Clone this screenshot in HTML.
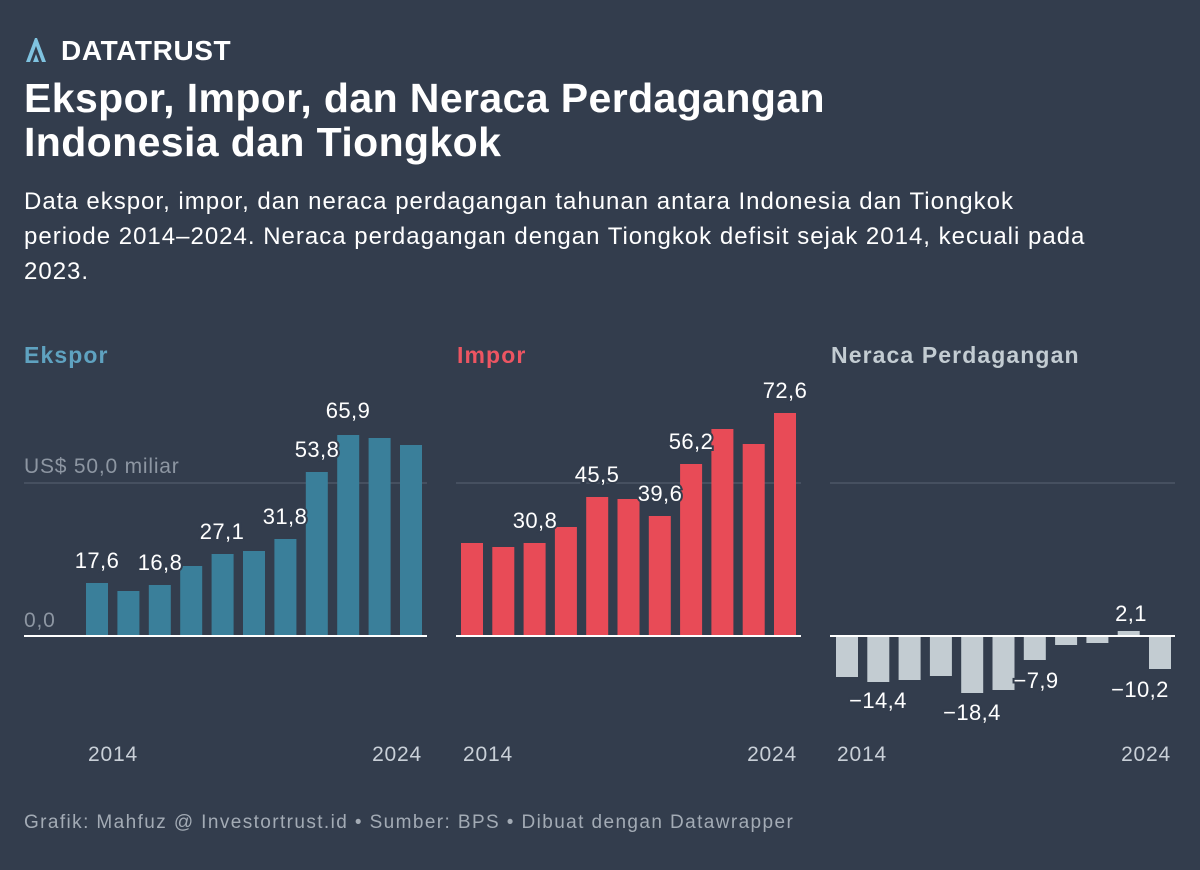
<!DOCTYPE html>
<html><head><meta charset="utf-8"><style>
body{margin:0;width:1200px;height:870px;background:#333d4d;overflow:hidden;font-family:"Liberation Sans",Arial,sans-serif;}
.t{position:absolute;white-space:nowrap;}
</style></head><body>
<div class="t" style="left:24px;top:36px;">
<svg width="24" height="28" viewBox="0 0 24 28" style="vertical-align:middle"><path d="M2 26 L11 2 L13 2 L22 26 L18 26 L12 10 L6 26 Z" fill="#7fc3e0"/><path d="M9 26 L12 18 L15 26 Z" fill="#7fc3e0"/></svg>
</div>
<div class="t" style="left:61px;top:35px;font-size:28px;font-weight:bold;color:#fff;letter-spacing:0.6px;">DATATRUST</div>
<div class="t" style="left:24px;top:76px;font-size:41px;font-weight:bold;color:#fff;line-height:44px;letter-spacing:0.4px;">Ekspor, Impor, dan Neraca Perdagangan<br>Indonesia dan Tiongkok</div>
<div class="t" style="left:24px;top:184px;font-size:24px;color:#fff;line-height:35px;letter-spacing:1.0px;">Data ekspor, impor, dan neraca perdagangan tahunan antara Indonesia dan Tiongkok<br>periode 2014–2024. Neraca perdagangan dengan Tiongkok defisit sejak 2014, kecuali pada<br>2023.</div>
<div class="t" style="left:24px;top:342px;font-size:23px;font-weight:bold;color:#5fa2c0;letter-spacing:1.1px;">Ekspor</div>
<div class="t" style="left:457px;top:342px;font-size:23px;font-weight:bold;color:#ed5562;letter-spacing:1.1px;">Impor</div>
<div class="t" style="left:831px;top:342px;font-size:23px;font-weight:bold;color:#c3ccd2;letter-spacing:1.1px;">Neraca Perdagangan</div>
<div class="t" style="left:24px;top:812px;font-size:19px;color:#a3abb5;letter-spacing:1.4px;">Grafik: Mahfuz @ Investortrust.id • Sumber: BPS • Dibuat dengan Datawrapper</div>
<svg width="1200" height="870" style="position:absolute;left:0;top:0" font-family="Liberation Sans,Arial,sans-serif">
<g stroke="#4d5766" stroke-width="1.5"><line x1="24" y1="483" x2="427" y2="483"/><line x1="456" y1="483" x2="801" y2="483"/><line x1="830" y1="483" x2="1175" y2="483"/></g>
<text x="24" y="473" font-size="21" fill="#8d96a2" letter-spacing="0.8">US$ 50,0 miliar</text>
<text x="24" y="627" font-size="21" fill="#8d96a2" letter-spacing="0.8">0,0</text>
<g fill="#3a7f9a">
<rect x="86" y="583" width="22" height="53"/><rect x="117.4" y="591" width="22" height="45"/><rect x="148.8" y="585" width="22" height="51"/><rect x="180.2" y="566" width="22" height="70"/><rect x="211.6" y="554" width="22" height="82"/><rect x="243" y="551" width="22" height="85"/><rect x="274.4" y="539" width="22" height="97"/><rect x="305.8" y="472" width="22" height="164"/><rect x="337.2" y="435" width="22" height="201"/><rect x="368.6" y="438" width="22" height="198"/><rect x="400" y="445" width="22" height="191"/>
</g>
<g fill="#e84b57">
<rect x="461" y="543" width="22" height="93"/><rect x="492.3" y="547" width="22" height="89"/><rect x="523.6" y="543" width="22" height="93"/><rect x="554.9" y="527" width="22" height="109"/><rect x="586.2" y="497" width="22" height="139"/><rect x="617.5" y="499" width="22" height="137"/><rect x="648.8" y="516" width="22" height="120"/><rect x="680.1" y="464" width="22" height="172"/><rect x="711.4" y="429" width="22" height="207"/><rect x="742.7" y="444" width="22" height="192"/><rect x="774" y="413" width="22" height="223"/>
</g>
<g fill="#c3ccd2">
<rect x="836" y="636" width="22" height="41"/><rect x="867.3" y="636" width="22" height="46"/><rect x="898.6" y="636" width="22" height="44"/><rect x="929.9" y="636" width="22" height="40"/><rect x="961.2" y="636" width="22" height="57"/><rect x="992.5" y="636" width="22" height="54"/><rect x="1023.8" y="636" width="22" height="24"/><rect x="1055.1" y="636" width="22" height="9"/><rect x="1086.4" y="636" width="22" height="7"/><rect x="1117.7" y="631" width="22" height="5"/><rect x="1149" y="636" width="22" height="33"/>
</g>
<g stroke="#fff" stroke-width="2"><line x1="24" y1="636" x2="427" y2="636"/><line x1="456" y1="636" x2="801" y2="636"/><line x1="830" y1="636" x2="1175" y2="636"/></g>
<g font-size="22" fill="#fff" text-anchor="middle" stroke="#333d4d" stroke-width="4" paint-order="stroke" letter-spacing="0.4">
<text x="97" y="568">17,6</text><text x="160" y="570">16,8</text><text x="222" y="539">27,1</text><text x="285" y="524">31,8</text><text x="317" y="457">53,8</text><text x="348" y="418">65,9</text>
<text x="535" y="528">30,8</text><text x="597" y="482">45,5</text><text x="660" y="501">39,6</text><text x="691" y="449">56,2</text><text x="785" y="398">72,6</text>
<text x="878" y="708">−14,4</text><text x="972" y="720">−18,4</text><text x="1036" y="688">−7,9</text><text x="1131" y="621">2,1</text><text x="1140" y="697">−10,2</text>
</g>
<g font-size="21" fill="#c9d0d8" letter-spacing="0.8">
<text x="88" y="761">2014</text><text x="422" y="761" text-anchor="end">2024</text>
<text x="463" y="761">2014</text><text x="797" y="761" text-anchor="end">2024</text>
<text x="837" y="761">2014</text><text x="1171" y="761" text-anchor="end">2024</text>
</g>
</svg>
</body></html>
